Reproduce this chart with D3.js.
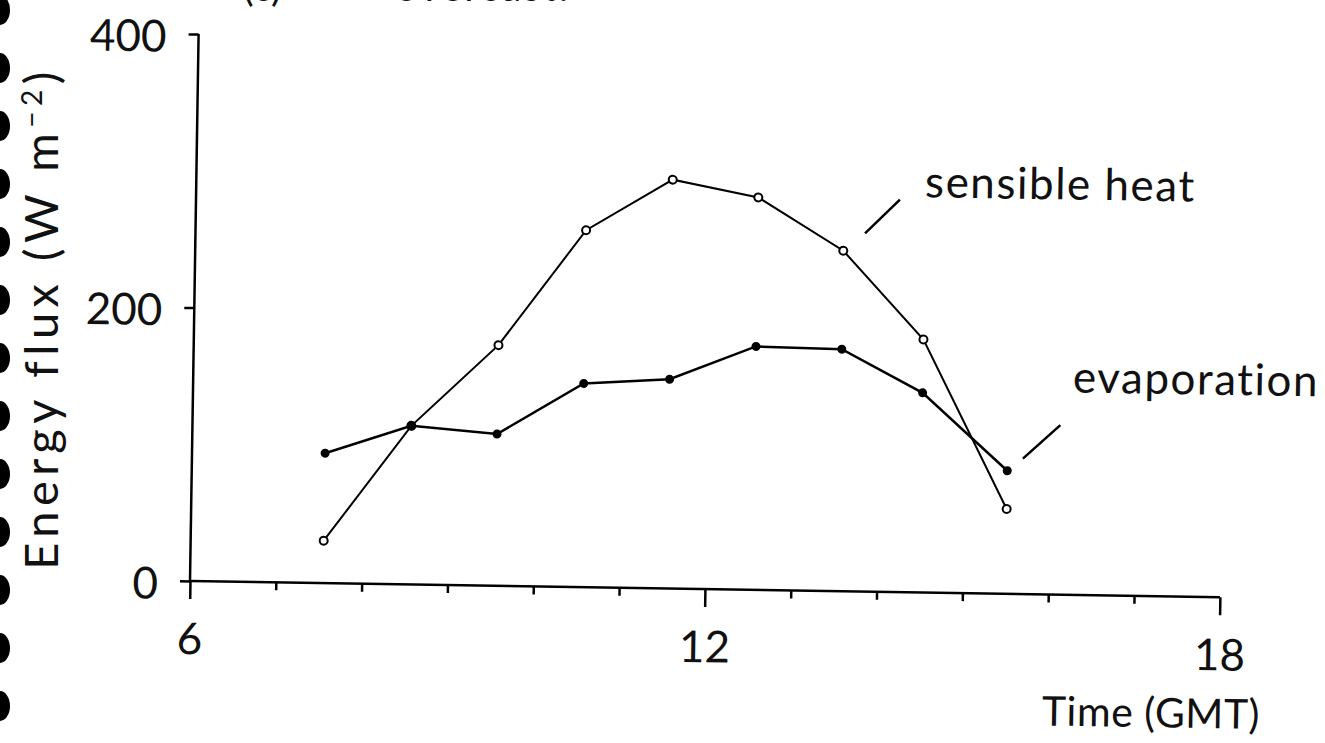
<!DOCTYPE html>
<html>
<head>
<meta charset="utf-8">
<script src="https://cdn.jsdelivr.net/npm/d3@7/dist/d3.min.js"></script>
<style>
  html, body { margin: 0; padding: 0; background: #fff; }
  svg { display: block; }
  text { font-family: Lato, "Open Sans", sans-serif; fill: #111; }
</style>
</head>
<body>
<svg id="chart" width="1325" height="743"></svg>
<script>
// Hourly surface energy fluxes, overcast day
const hours = [7.55, 8.55, 9.55, 10.55, 11.55, 12.55, 13.55, 14.5, 15.5];
const sensibleHeat = [31, 116, 176, 261, 299, 287, 249, 185, 62];
const evaporation = [95, 116, 111, 149, 153, 178, 177, 146, 90];

const xMajorTicks = [6, 12, 18];
const xMinorTicks = [7, 8, 9, 10, 11, 13, 14, 15, 16, 17];
const yTicks = [0, 200, 400];

const svg = d3.select("#chart");
const W = 1030, H = 547;

const x = d3.scaleLinear().domain([6, 18]).range([0, W]);
const y = d3.scaleLinear().domain([0, 400]).range([0, -H]);

// the printed figure sits slightly askew on the page
const g = svg.append("g").attr("transform", "translate(190,581) rotate(0.9)");

// binder holes down the left margin
const holes = d3.range(13).map(i => 10 + i * 58);
svg.append("g").selectAll("ellipse").data(holes).join("ellipse")
  .attr("cx", 0).attr("cy", d => d).attr("rx", 10).attr("ry", 15).attr("fill", "#000");

// panel heading, mostly cut off at the top edge
svg.append("text").attr("x", 243).attr("y", 1).attr("font-size", 40).text("(c)");
svg.append("text").attr("x", 395).attr("y", 1).attr("font-size", 40).attr("letter-spacing", 2).text("overcast.");

// axes
const xAxis = d3.axisBottom(x).tickValues(xMajorTicks).tickSize(18).tickPadding(24).tickFormat(d3.format("d"));
const gx = g.append("g").call(xAxis);
gx.select(".domain").attr("stroke-width", 2.5).attr("d", `M0,0H${W}`);
gx.selectAll(".tick line").attr("stroke-width", 2.5);
gx.selectAll(".tick text").attr("font-size", 44).attr("font-family", "Lato").attr("fill", "#111");
g.append("g").call(d3.axisBottom(x).tickValues(xMinorTicks).tickSize(8).tickFormat(""))
  .call(s => s.select(".domain").remove())
  .selectAll(".tick line").attr("stroke-width", 2.5);

const yAxis = d3.axisLeft(y).tickValues(yTicks).tickSize(10).tickPadding(22);
const gy = g.append("g").call(yAxis);
gy.select(".domain").attr("stroke-width", 2.5).attr("d", `M0,0V${-H}`);
gy.selectAll(".tick line").attr("stroke-width", 2.5);
gy.selectAll(".tick text").attr("font-size", 44).attr("font-family", "Lato").attr("fill", "#111").attr("dy", "0.4em");

// axis titles
g.append("text").attr("text-anchor", "end").attr("x", W + 42).attr("y", 131)
  .attr("font-size", 41).attr("letter-spacing", 0.5).text("Time (GMT)");
svg.append("text").attr("transform", "translate(58,318) rotate(-90)").attr("text-anchor", "middle")
  .attr("font-size", 47).attr("letter-spacing", 5.5)
  .html("Energy flux (W m<tspan dy='-16' font-size='28'>−2</tspan><tspan dy='16'>)</tspan>");

// series
const line = d3.line().x(d => x(d[0])).y(d => y(d[1]));
const sens = hours.map((h, i) => [h, sensibleHeat[i]]);
const evap = hours.map((h, i) => [h, evaporation[i]]);

g.append("path").datum(sens).attr("d", line).attr("fill", "none").attr("stroke", "#000").attr("stroke-width", 2);
g.append("path").datum(evap).attr("d", line).attr("fill", "none").attr("stroke", "#000").attr("stroke-width", 2.5);

g.append("g").selectAll("circle").data(sens).join("circle")
  .attr("cx", d => x(d[0])).attr("cy", d => y(d[1])).attr("r", 4)
  .attr("fill", "#fff").attr("stroke", "#000").attr("stroke-width", 2);
g.append("g").selectAll("circle").data(evap).join("circle")
  .attr("cx", d => x(d[0])).attr("cy", d => y(d[1])).attr("r", 4.5)
  .attr("fill", "#000");

// series labels with leader lines
const labels = [
  { text: "sensible heat", h: 14.49, v: 289, x0: 13.8, v0: 262, x1: 14.2, v1: 287 },
  { text: "evaporation", h: 16.25, v: 148, x0: 15.68, v0: 99, x1: 16.11, v1: 124 }
];
labels.forEach(l => {
  g.append("line").attr("x1", x(l.x0)).attr("y1", y(l.v0)).attr("x2", x(l.x1)).attr("y2", y(l.v1))
    .attr("stroke", "#000").attr("stroke-width", 2.5);
  g.append("text").attr("x", x(l.h)).attr("y", y(l.v)).attr("font-size", 44).attr("letter-spacing", 1.5).text(l.text);
});
</script>
</body>
</html>
